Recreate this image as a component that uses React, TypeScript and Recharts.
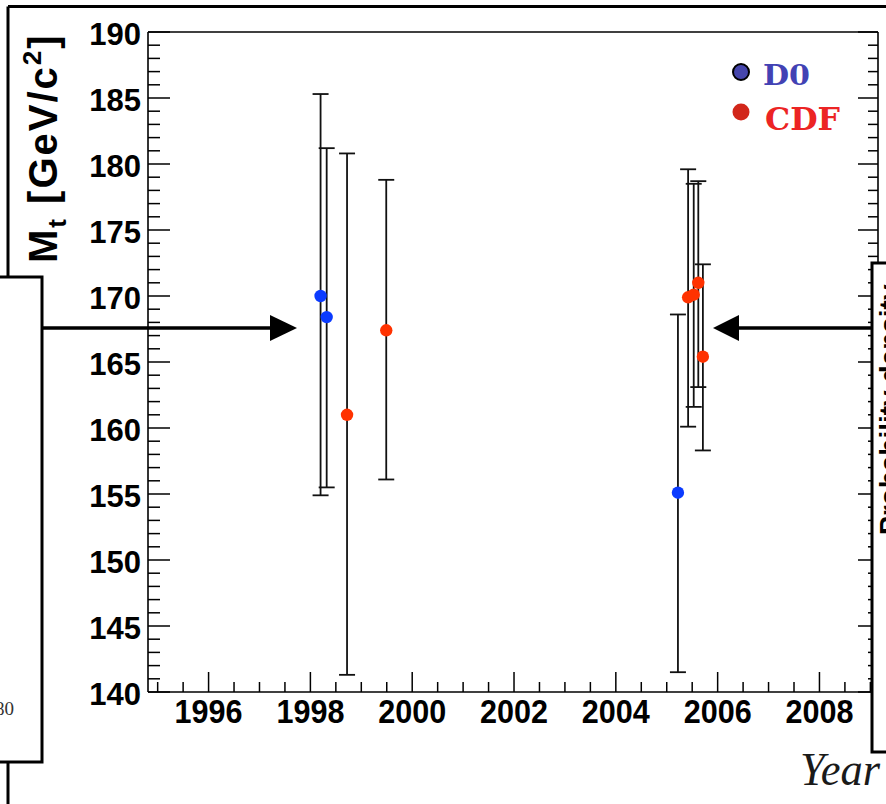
import React from 'react';
import { ScatterChart, Scatter, XAxis, YAxis, ErrorBar } from 'recharts';

// Top-quark mass measurements (dilepton channel) by publication year
const d0Years = [1998.2, 1998.32, 2005.22];
const d0Mass = [170.0, 168.4, 155.1];
const d0ErrLow = [15.1, 12.9, 13.6];
const d0ErrHigh = [15.3, 12.8, 13.5];

const cdfYears = [1998.72, 1999.49, 2005.42, 2005.53, 2005.62, 2005.71];
const cdfMass = [161.0, 167.4, 169.9, 170.1, 171.0, 165.4];
const cdfErrLow = [19.7, 11.3, 9.8, 8.5, 7.9, 7.1];
const cdfErrHigh = [19.8, 11.4, 9.7, 8.4, 7.7, 7.0];

// Axis ranges and tick labels
const yearDomain: [number, number] = [1994.81, 2009.15];
const massDomain: [number, number] = [140, 190];
const yearLabels = [1996, 1998, 2000, 2002, 2004, 2006, 2008];
const massLabels = [140, 145, 150, 155, 160, 165, 170, 175, 180, 185, 190];
const yearTicks = Array.from({ length: 29 }, (_, i) => 1995 + i * 0.5);
const massTicks = Array.from({ length: 51 }, (_, i) => 140 + i);

const seriesD0 = { name: 'D0', color: '#0b3bff', legendFill: '#4646ac', legendText: '#4242b4' };
const seriesCDF = { name: 'CDF', color: '#ff3200', legendFill: '#d2261a', legendText: '#ec2424' };

const d0Data = d0Years.map((year, i) => ({ year, mass: d0Mass[i], err: [d0ErrLow[i], d0ErrHigh[i]] }));
const cdfData = cdfYears.map((year, i) => ({ year, mass: cdfMass[i], err: [cdfErrLow[i], cdfErrHigh[i]] }));

const SANS = '"Liberation Sans", Arial, Helvetica, sans-serif';
const SERIF = '"Liberation Serif", "Times New Roman", serif';
const frameLine = { stroke: '#000', strokeWidth: 1.6 };

const isMajorYear = (v: number) => yearLabels.includes(v);
const isMajorMass = (v: number) => massLabels.includes(v);

const BottomTick = (props: any) => {
  const { x, y, payload } = props;
  const major = isMajorYear(payload.value);
  return (
    <g>
      <line x1={x} x2={x} y1={y} y2={y - (major ? 20 : 10)} stroke="#000" strokeWidth={1.5} />
      {major && (
        <text x={x} y={y + 31} textAnchor="middle" fontFamily={SANS} fontWeight="bold" fontSize={33}
          textLength={68} lengthAdjust="spacingAndGlyphs" fill="#000">
          {payload.value}
        </text>
      )}
    </g>
  );
};

const TopTick = (props: any) => {
  const { x, y, payload } = props;
  const major = isMajorYear(payload.value);
  return <line x1={x} x2={x} y1={y} y2={y + (major ? 20 : 10)} stroke="#000" strokeWidth={1.5} />;
};

const LeftTick = (props: any) => {
  const { x, y, payload } = props;
  const major = isMajorMass(payload.value);
  return (
    <g>
      <line x1={x} x2={x + (major ? 22 : 12)} y1={y} y2={y} stroke="#000" strokeWidth={1.5} />
      {major && (
        <text x={x - 7} y={y + 13} textAnchor="end" fontFamily={SANS} fontWeight="bold" fontSize={31} fill="#000">
          {payload.value}
        </text>
      )}
    </g>
  );
};

const RightTick = (props: any) => {
  const { x, y, payload } = props;
  const major = isMajorMass(payload.value);
  return <line x1={x} x2={x - (major ? 20 : 10)} y1={y} y2={y} stroke="#000" strokeWidth={1.5} />;
};

const dot = (color: string) => (p: any) => <circle cx={p.cx} cy={p.cy} r={6.2} fill={color} />;

const Decorations = () => (
  <svg width={886} height={804} style={{ position: 'absolute', left: 0, top: 0, pointerEvents: 'none' }}>
    {/* surrounding panel frame */}
    <line x1={8} y1={6.5} x2={886} y2={6.5} stroke="#000" strokeWidth={3} />
    <line x1={8} y1={6.5} x2={8} y2={804} stroke="#000" strokeWidth={3} />

    {/* neighbouring panel on the left */}
    <rect x={-5} y={277} width={47} height={485} fill="#fff" stroke="#000" strokeWidth={3} />
    <text x={14} y={715} textAnchor="end" fontFamily={SERIF} fontSize={19} fill="#333">180</text>

    {/* neighbouring panel on the right */}
    <rect x={872} y={263} width={30} height={489} fill="#fff" stroke="#000" strokeWidth={3} />
    <text transform="translate(899,535) rotate(-90)" fontFamily={SANS} fontWeight="bold" fontSize={28} fill="#000">
      Probability density
    </text>

    {/* arrows linking the panels */}
    <line x1={42} y1={328} x2={272} y2={328} stroke="#000" strokeWidth={3.5} />
    <polygon points="270,315 297,328 270,341" fill="#000" />
    <line x1={872} y1={328} x2={737} y2={328} stroke="#000" strokeWidth={3.5} />
    <polygon points="739,315 713,328 739,341" fill="#000" />

    {/* y-axis title */}
    <text transform="translate(57,263) rotate(-90)" fontFamily={SANS} fontWeight="bold" fontSize={40}
      letterSpacing={2} fill="#000">
      M<tspan fontSize={26} dy={9}>t</tspan>
      <tspan fontSize={40} dy={-9}> [GeV/c</tspan>
      <tspan fontSize={26} dy={-16}>2</tspan>
      <tspan fontSize={40} dy={16}>]</tspan>
    </text>

    {/* x-axis title */}
    <text x={800} y={785} fontFamily={SERIF} fontStyle="italic" fontSize={46} textLength={80}
      lengthAdjust="spacingAndGlyphs" fill="#1a1a1a">Year</text>

    {/* legend */}
    <circle cx={741} cy={72} r={8} fill={seriesD0.legendFill} stroke="#000" strokeWidth={2} />
    <text x={763} y={85} fontFamily='"DejaVu Serif", serif' fontWeight="bold" fontSize={28} textLength={47}
      lengthAdjust="spacingAndGlyphs" fill={seriesD0.legendText}>{seriesD0.name}</text>
    <circle cx={741} cy={112} r={8.5} fill={seriesCDF.legendFill} />
    <text x={765} y={130} fontFamily='"DejaVu Serif", serif' fontWeight="bold" fontSize={32} textLength={75}
      lengthAdjust="spacingAndGlyphs" fill={seriesCDF.legendText}>{seriesCDF.name}</text>
  </svg>
);

export default function App() {
  return (
    <div style={{ position: 'absolute', left: 0, top: 0, width: 886, height: 804, background: '#fff', overflow: 'hidden' }}>
      <ScatterChart width={886} height={804} margin={{ top: 31, right: 7, bottom: 111, left: 147 }}>
        <XAxis xAxisId="bottom" type="number" dataKey="year" domain={yearDomain} ticks={yearTicks} interval={0}
          allowDataOverflow height={1} tickSize={0} tickMargin={0} tickLine={false} axisLine={frameLine}
          tick={(p: any) => <BottomTick {...p} />} />
        <XAxis xAxisId="top" orientation="top" type="number" domain={yearDomain} ticks={yearTicks} interval={0}
          allowDataOverflow height={1} tickSize={0} tickMargin={0} tickLine={false} axisLine={frameLine}
          tick={(p: any) => <TopTick {...p} />} />
        <YAxis yAxisId="left" type="number" dataKey="mass" domain={massDomain} ticks={massTicks} interval={0}
          allowDataOverflow width={1} tickSize={0} tickMargin={0} tickLine={false} axisLine={frameLine}
          tick={(p: any) => <LeftTick {...p} />} />
        <YAxis yAxisId="right" orientation="right" type="number" domain={massDomain} ticks={massTicks} interval={0}
          allowDataOverflow width={1} tickSize={0} tickMargin={0} tickLine={false} axisLine={frameLine}
          tick={(p: any) => <RightTick {...p} />} />
        <Scatter name={seriesD0.name} data={d0Data} xAxisId="bottom" yAxisId="left" dataKey="mass"
          fill={seriesD0.color} shape={dot(seriesD0.color)} isAnimationActive={false}>
          <ErrorBar dataKey="err" direction="y" width={8} stroke="#111" strokeWidth={1.8} />
        </Scatter>
        <Scatter name={seriesCDF.name} data={cdfData} xAxisId="bottom" yAxisId="left" dataKey="mass"
          fill={seriesCDF.color} shape={dot(seriesCDF.color)} isAnimationActive={false}>
          <ErrorBar dataKey="err" direction="y" width={8} stroke="#111" strokeWidth={1.8} />
        </Scatter>
      </ScatterChart>
      <Decorations />
    </div>
  );
}
